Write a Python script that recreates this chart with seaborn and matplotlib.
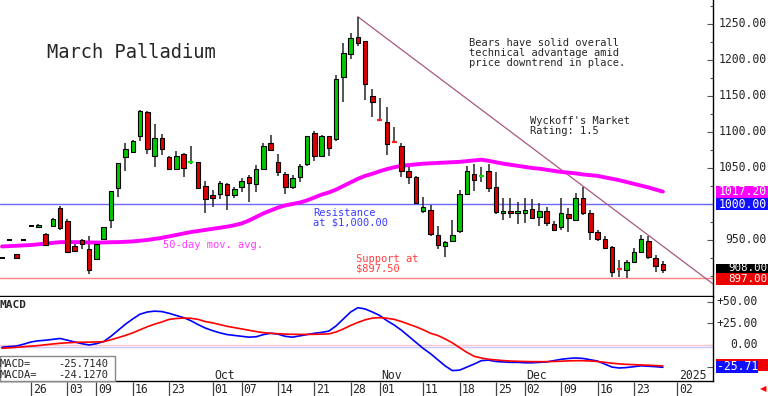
import numpy as np
import pandas as pd
import seaborn as sns
import matplotlib.pyplot as plt
from matplotlib.patches import Rectangle

# ---- data (one entry per trading day, Aug 20 - Dec 30 2024) ----
opens = [925, 950, 930, 950, 969, 968, 959, 970, 995, 977,
         942, 950, 938, 923, 952, 978, 1022, 1065, 1072, 1095,
         1128, 1066, 1092, 1065, 1048, 1070, 1057.8, 1058, 1025, 1012,
         1014, 1028, 1013, 1023, 1038, 1028, 1049, 1085, 1058, 1042,
         1023, 1038, 1055, 1098, 1067, 1094, 1090, 1177, 1208, 1232,
         1226, 1150, 1117.5, 1114, 1086.5, 1081, 1046, 1037, 990, 991,
         957, 942, 949, 962, 1014, 1041, 1038, 1046, 1024, 987,
         990, 987, 988, 993, 981.5, 990, 972, 968, 986, 978,
         1009, 987, 961, 951, 940, 910, 908, 920, 934, 948,
         925, 916.7]
highs = [925, 950, 931, 950, 969, 972, 960, 980, 997, 979,
         944, 952, 956, 945, 968, 1018, 1057, 1085, 1089, 1130,
         1129, 1111, 1097, 1066, 1074, 1071, 1080, 1058, 1032, 1019,
         1032, 1029, 1023, 1036, 1040, 1054, 1085, 1096, 1070, 1044,
         1040, 1056, 1095, 1102, 1096, 1095, 1179, 1224, 1237, 1260,
         1227, 1159, 1147, 1135, 1107, 1084, 1054, 1039, 1010, 999,
         969, 949, 978, 1020, 1053, 1055, 1051, 1055, 1045, 1009,
         1008, 1003, 1008, 1007, 1002, 996, 977, 1009, 995, 1015,
         1024, 992, 964, 956, 942, 922, 922, 938.5, 957, 955,
         929, 921]
lows = [925, 950, 924, 950, 969, 967, 941, 969, 964, 933,
        935, 938, 903, 923, 952, 966, 1010, 1046, 1071, 1087,
        1069, 1052, 1068, 1047, 1047, 1038, 1056, 1021, 988, 996,
        1007, 992, 1009, 1017, 1003, 1016, 1047, 1074, 1039, 1014,
        1021, 1031, 1053, 1060, 1066, 1067, 1088, 1141, 1201, 1219,
        1144, 1121, 1116, 1068, 1085, 1038, 1028, 1000, 988, 955,
        937, 927, 948, 960, 1012, 1018, 1030, 1016, 986, 978,
        980, 972, 974, 979, 969, 969, 963, 964, 961.5, 977,
        985, 950, 948, 937, 899, 898, 897, 917.6, 932, 923,
        906, 904.6]
closes = [925, 950, 925, 950, 969, 971, 943, 979.6, 966, 934,
          935, 944, 909, 945, 968, 1018, 1057, 1077, 1088, 1129,
          1077, 1092, 1076, 1049, 1067, 1050, 1058.2, 1022, 1007, 1008,
          1029, 1012, 1021, 1032, 1029, 1048, 1081, 1075, 1045, 1023,
          1036, 1053, 1094, 1067, 1094, 1078, 1173, 1209, 1230, 1224,
          1167, 1141, 1117, 1083, 1086, 1046, 1037, 1002, 996, 958,
          943, 947, 957, 1014, 1046, 1034, 1038.4, 1022, 988.5, 990,
          987, 990, 991, 980, 990, 973, 964, 987, 981, 1008,
          988, 961.5, 951, 939, 905, 909.6, 919, 934, 951, 927,
          914, 908]
ma50 = [941, 941.5, 942, 942.5, 943, 944, 945, 946, 947, 947,
        947, 947, 946.5, 946.5, 946.5, 947, 947, 947.5, 948, 949,
        950, 951.5, 953, 955, 957, 959, 961, 962.5, 964, 965.5,
        967, 968.5, 970.5, 973, 977, 982, 987, 991, 995, 998,
        1000, 1002, 1005, 1009, 1013, 1016, 1020, 1025, 1030, 1035,
        1039, 1042, 1045.5, 1048.5, 1051, 1053, 1054, 1055, 1056, 1056.5,
        1057, 1057.5, 1058, 1058.5, 1059.5, 1060.5, 1061.5, 1060, 1058, 1056,
        1054.5, 1053, 1051.5, 1050, 1049, 1047.5, 1046, 1044.5, 1043.5, 1042.5,
        1041, 1040, 1039, 1037, 1035, 1033, 1030.5, 1028, 1025.5, 1023,
        1020, 1017.2]
macd = [-2.5, -1.8, -1.2, 1, 3.5, 4.8, 5.5, 6.5, 7.5, 5.5,
        3.5, 1.5, 0, 1.5, 4, 10, 17, 24, 30, 35.5,
        38, 39, 38.5, 36.5, 34, 31.5, 28, 23.5, 19.5, 16.5,
        14, 12, 11, 10, 9, 9.5, 12, 13.5, 12.5, 10,
        9, 10.5, 12, 13.5, 14.5, 16, 22, 30, 38, 43,
        41.5, 38, 34, 28, 23, 17, 10, 3, -4, -10,
        -17, -24, -29.5, -29, -25.5, -22, -18, -17.5, -19, -19.5,
        -20, -20, -20.5, -20.5, -20, -19.5, -18, -16.5, -15.5, -15,
        -15.5, -17, -18.5, -22, -25.5, -26.5, -26, -25, -24, -24.5,
        -25, -25.714]
macda = [-3.8, -3.3, -2.7, -2, -1.4, -0.7, 0.3, 1.2, 2, 2.5,
         3, 3.2, 3.3, 3.5, 3.8, 6, 8.5, 11, 14, 17.5,
         21, 24, 26.5, 29.5, 30.5, 31, 30.8, 29.5, 27, 25.5,
         23.5, 21.5, 20, 18.5, 17, 15.5, 14.2, 13.5, 13, 12.5,
         12.3, 12.2, 12.2, 12.3, 12.5, 12.8, 15, 18.5, 22.5, 26,
         29, 31, 31.5, 30.8, 29.5, 27, 24, 21, 17.5, 13.5,
         11, 7, 2.5, -3, -8.5, -13, -15, -16.5, -17.2, -18,
         -18.5, -18.8, -19, -19.2, -19.2, -19.2, -19, -18.7, -18.3, -18.1,
         -18.1, -18.5, -19, -20, -21, -21.8, -22.3, -22.7, -23, -23.3,
         -23.7, -24.127]

day_ticks = [4, 9, 13, 18, 23, 29, 33, 38, 43, 48, 52, 58, 63, 68, 72, 77, 82, 87, 93]
day_labels = ['26', '03', '09', '16', '23', '01', '07', '14', '21', '28',
              '01', '11', '18', '25', '02', '09', '16', '23', '02']
month_ticks = [29, 52, 72, 93]
month_labels = ['Oct', 'Nov', 'Dec', '2025']
price_ticks = [950, 1050, 1100, 1150, 1200, 1250]
macd_ticks = [50, 25, 0]
resistance = 1000.0
support = 897.5
trend_x = [49, 97.9]
trend_y = [1260, 889]

df = pd.DataFrame({'day': np.arange(len(closes)), 'open': opens, 'high': highs,
                   'low': lows, 'close': closes, 'ma50': ma50,
                   'macd': macd, 'macda': macda})

sns.set_style('white')
plt.rcParams['font.family'] = ['DejaVu Sans Mono']

W, H = 768, 396
fig = plt.figure(figsize=(W / 100, H / 100), dpi=100)


def px_text(x, y, s, **kw):
    kw.setdefault('va', 'center')
    kw.setdefault('fontsize', 7.5)
    fig.text(x / W, 1 - y / H, s, **kw)


def px_box(x0, y0, x1, y1, color, **kw):
    fig.add_artist(Rectangle((x0 / W, 1 - y1 / H), (x1 - x0) / W, (y1 - y0) / H,
                             transform=fig.transFigure, facecolor=color,
                             edgecolor=kw.pop('edgecolor', 'none'), lw=kw.pop('lw', 0), **kw))


xlim = (-0.28, 97.9)
ax = fig.add_axes([0, 1 - 296 / H, 713 / W, 296 / H])
axm = fig.add_axes([0, 1 - 381 / H, 713 / W, 84 / H])
axd = fig.add_axes([0, 0, 713 / W, 15 / H])

# ---- price panel ----
green, red = '#00c800', '#dd0000'
ranged = df[df.high > df.low]
ax.vlines(ranged.day, ranged.low, ranged.high, color='#262626', lw=1.1, zorder=2)
body = df[(df.close - df.open).abs() >= 1]
ax.bar(body.day, (body.close - body.open).abs(), bottom=body[['open', 'close']].min(axis=1),
       width=0.62, color=np.where(body.close > body.open, green, red),
       edgecolor='black', lw=0.8, zorder=3)
doji = df[((df.close - df.open).abs() < 1) & (df.high > df.low)]
ax.hlines(doji.close, doji.day - 0.35, doji.day + 0.35,
          colors=np.where(doji.close > doji.open, '#00e000', '#ff2020'), lw=1.6, zorder=3)
flat = df[df.high == df.low]
ax.hlines(flat.close, flat.day - 0.35, flat.day + 0.35, colors='black', lw=1.4, zorder=3)

sns.lineplot(data=df, x='day', y='ma50', ax=ax, color='#ff00ff', lw=2.8, zorder=2.5)
ax.axhline(resistance, color='#6a6aff', lw=1, zorder=1)
ax.axhline(support, color='#ff8080', lw=1, zorder=1)
ax.plot(trend_x, trend_y, color='#a8587e', lw=0.9, zorder=1.5)

ax.set_xlim(*xlim)
ax.set_ylim(872.2, 1283.3)
ax.set_xlabel('')
ax.set_ylabel('')
ax.set_xticks([])
ax.yaxis.tick_right()
ax.set_yticks(price_ticks + [1000])
ax.set_yticks(np.arange(900, 1276, 25), minor=True)
ax.tick_params(axis='y', which='both', right=True, left=False, labelright=False,
               direction='in', length=4, width=0.8, color='#555555')
ax.tick_params(axis='y', which='minor', length=2)
for s in ['left', 'top']:
    ax.spines[s].set_visible(False)
for s in ['right', 'bottom']:
    ax.spines[s].set_color('black')
    ax.spines[s].set_linewidth(1)
tr = ax.get_yaxis_transform()
for v in price_ticks:
    ax.text(767 / 713, v, f'{v:.2f}', transform=tr, ha='right', va='center',
            fontsize=8.3, clip_on=False)

# value boxes on the right
px_box(716, 185.5, 768, 197.5, '#ff00ff')
px_text(767, 191.3, f'{ma50[-1]:.2f}', color='white', ha='right', fontsize=8.3)
px_box(716, 198, 768, 210, '#1010ff')
px_text(767, 204, f'{resistance:.2f}', color='white', ha='right', fontsize=8.3)
px_box(716, 263.5, 768, 275.5, 'black')
px_text(767, 268, f'{closes[-1]:.2f}', color='white', ha='right', fontsize=7.8)
px_box(716, 273, 768, 285, '#ee0000')
px_text(767, 279.5, '897.00', color='white', ha='right', fontsize=7.8)

# annotations
px_text(47, 53, 'March Palladium', fontsize=13.5)
for i, line in enumerate(['Bears have solid overall', 'technical advantage amid',
                          'price downtrend in place.']):
    px_text(469, 42.5 + 10.5 * i, line)
px_text(530, 120.5, "Wyckoff's Market")
px_text(530, 131, 'Rating: 1.5')
px_text(313, 212.5, 'Resistance', color='#3c3cff')
px_text(313, 222.5, 'at $1,000.00', color='#3c3cff')
px_text(163, 245, '50-day mov. avg.', color='#ff3cff')
px_text(356, 258.5, 'Support at', color='#ff3c3c')
px_text(356, 268.5, '$897.50', color='#ff3c3c')

# ---- MACD panel ----
axm.axhline(0, color='#ffc8c8', lw=1, zorder=1)
axm.axhline(-2.4, color='#c8c8ff', lw=1, zorder=1)
sns.lineplot(data=df, x='day', y='macda', ax=axm, color='#ff0000', lw=1.2, zorder=3)
sns.lineplot(data=df, x='day', y='macd', ax=axm, color='#0000ff', lw=1.2, zorder=2)
axm.set_xlim(*xlim)
axm.set_ylim(-41.5, 55.3)
axm.set_xlabel('')
axm.set_ylabel('')
axm.set_xticks([])
axm.yaxis.tick_right()
axm.set_yticks(macd_ticks + [-25])
axm.tick_params(axis='y', right=True, left=False, labelright=False,
                direction='in', length=4, width=0.8, color='#555555')
for s in ['left', 'top']:
    axm.spines[s].set_visible(False)
for s in ['right', 'bottom']:
    axm.spines[s].set_color('black')
    axm.spines[s].set_linewidth(1)
trm = axm.get_yaxis_transform()
for v in macd_ticks:
    axm.text(758 / 713, v, f'{v:+.2f}' if v else '0.00', transform=trm,
             ha='right', va='center', fontsize=8.3, clip_on=False)
for t, lab in zip(month_ticks, month_labels):
    axm.text(t + 0.2, 0.07, lab, transform=axm.get_xaxis_transform(),
             ha='left', va='center', fontsize=8.3, clip_on=False)

px_box(716, 358.5, 768, 370.5, '#ee0000')
px_box(716, 361, 758, 373, '#1010ff')
px_text(758, 367, f'{macd[-1]:.2f}', color='white', ha='right', fontsize=8.3)

px_text(0, 305, 'MACD', fontweight='bold', fontsize=8)
px_box(0, 356, 115, 381, 'white', edgecolor='#888888', lw=1, zorder=5)
px_text(0, 364, 'MACD=', zorder=6)
px_text(108, 364, f'{macd[-1]:.4f}', ha='right', zorder=6)
px_text(0, 374.5, 'MACDA=', zorder=6)
px_text(108, 374.5, f'{macda[-1]:.4f}', ha='right', zorder=6)

# ---- date row ----
axd.set_xlim(*xlim)
axd.set_ylim(0, 1)
axd.axis('off')
axd.vlines(day_ticks, 0, 0.95, color='#444444', lw=0.9)
for t, lab in zip(day_ticks, day_labels):
    axd.text(t + 0.25, 0.45, lab, ha='left', va='center', fontsize=8.3, clip_on=False)

px_text(763, 389, '◀', color='red', ha='center', fontsize=6, family='DejaVu Sans')

fig.savefig('out.png', dpi=100)
